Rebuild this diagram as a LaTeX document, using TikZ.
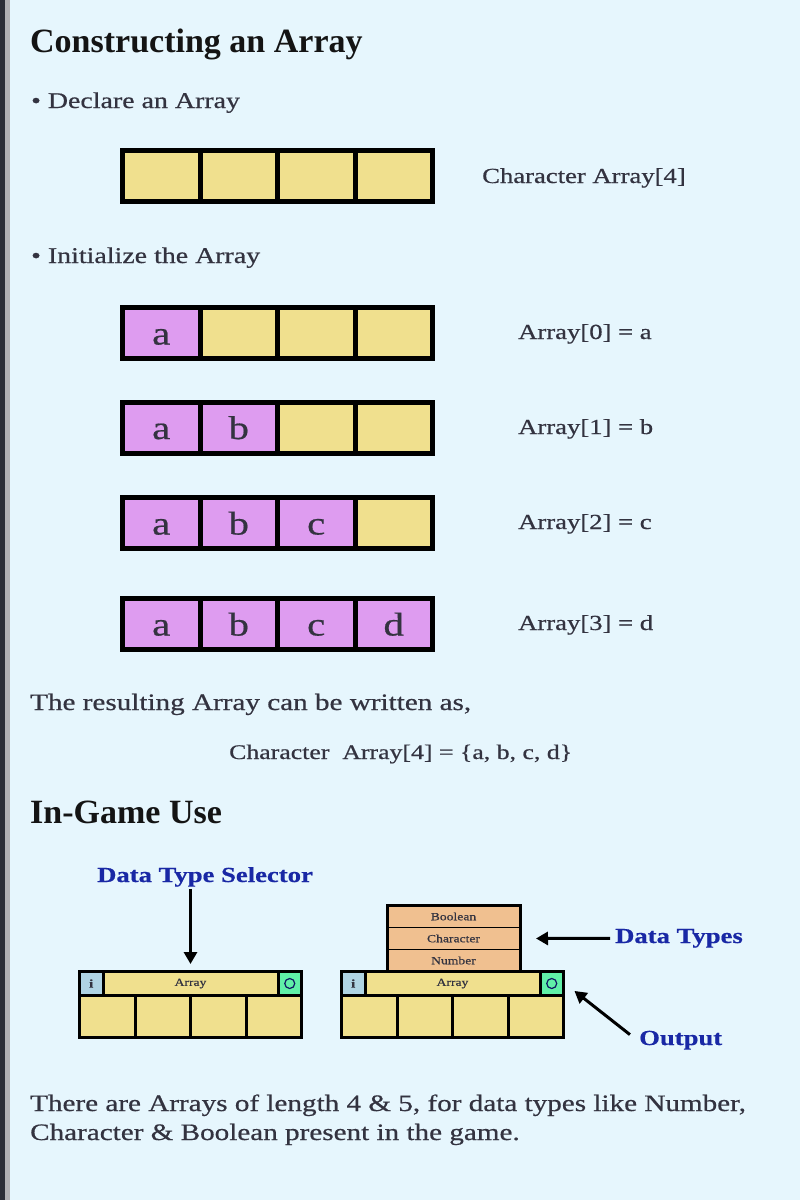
\documentclass[tikz,border=0pt]{standalone}
\usepackage{fontspec}
\setmainfont{Liberation Serif}[FakeStretch=1.24,FakeBold=0.6]
\newfontfamily\headfont{Liberation Serif}
\usetikzlibrary{arrows.meta}
\definecolor{bgblue}{RGB}{230,246,253}
\definecolor{stripdark}{RGB}{42,48,56}
\definecolor{stripgray}{RGB}{175,178,180}
\definecolor{cellyellow}{RGB}{240,224,142}
\definecolor{cellpurple}{RGB}{222,156,240}
\definecolor{typeorange}{RGB}{240,192,144}
\definecolor{infoblue}{RGB}{176,212,228}
\definecolor{outgreen}{RGB}{96,240,168}
\definecolor{textgray}{RGB}{51,51,64}
\definecolor{labelblue}{RGB}{25,40,165}
\tikzset{
  cell/.style={draw,line width=5pt,fill=cellyellow,minimum width=77.5pt,minimum height=51pt,
    inner sep=0pt,text height=23pt,text depth=0pt,text=textgray,font=\fontsize{33}{40}\selectfont},
  txt/.style={anchor=base west,inner sep=0pt,text=textgray,font=\fontsize{22.5}{27}\selectfont},
  head/.style={anchor=base west,inner sep=0pt,text=black!92,font=\headfont\bfseries\fontsize{34}{40}\selectfont},
  tag/.style={anchor=base west,inner sep=2pt,text=labelblue,font=\bfseries\fontsize{21.5}{26}\selectfont},
  part/.style={draw,line width=3pt,inner sep=0pt,minimum height=24pt,text=textgray,font=\fontsize{11}{12}\selectfont},
  slot/.style={draw,line width=3pt,fill=cellyellow,minimum width=55.5pt,minimum height=42pt},
  dtype/.style={draw,line width=1pt,fill=typeorange,minimum width=132pt,minimum height=22pt,
    inner sep=0pt,text=textgray,font=\fontsize{11}{13}\selectfont},
  arr/.style={-{Triangle[length=12pt,width=13pt]},line width=3pt}
}
\begin{document}
\begin{tikzpicture}[x=1pt,y=-1pt]
  \useasboundingbox (0,0) rectangle (800,1200);
  \fill[bgblue] (0,0) rectangle (800,1200);
  \fill[stripdark] (0,0) rectangle (5,1200);
  \fill[stripgray] (5,0) rectangle (10,1200);

  % declaring
  \node[head] (title) at (30,52) {Constructing an Array};
  \node[txt] (declare) at (31,108) {\textbullet\ Declare an Array};
  \foreach \c in {1,...,4}
    \node[cell] (d\c) at (83.75+77.5*\c,176) {};
  \node[txt,font=\fontsize{21.5}{26}\selectfont] (decllab) at (482,183) {Character Array[4]};

  % initialising
  \node[txt] (init) at (31,263) {\textbullet\ Initialize the Array};
  \foreach \r/\yy in {1/333,2/427.5,3/523,4/624}
    \foreach \c/\ch in {1/a,2/b,3/c,4/d} {
      \ifnum\c>\r
        \node[cell] (r\r-\c) at (83.75+77.5*\c,\yy) {};
      \else
        \node[cell,fill=cellpurple] (r\r-\c) at (83.75+77.5*\c,\yy) {\ch};
      \fi
    }
  \foreach \i/\yy/\ch in {0/339/a,1/434/b,2/529/c,3/630/d}
    \node[txt,font=\fontsize{21.5}{26}\selectfont] (lab\i) at (518,\yy) {Array[\i] = \ch};

  \node[txt,font=\fontsize{23.5}{28}\selectfont] (result) at (30,710) {The resulting Array can be written as,};
  \node[txt,font=\fontsize{20.8}{25}\selectfont] (final) at (229,759) {Character\ \ Array[4] = \{a, b, c, d\}};

  % in-game blocks
  \node[head] (game) at (30,823) {In-Game Use};
  \node[dtype] (bool) at (453.5,916.5) {Boolean};
  \node[dtype] (char) at (453.5,938.5) {Character};
  \node[dtype] (num) at (453.5,960.5) {Number};
  \draw[line width=3pt] (bool.north west) rectangle (num.south east);
  \foreach \w/\dx in {1/0,2/262} {
    \begin{scope}[xshift=\dx pt]
      \node[part,fill=cellyellow,minimum width=175pt] (w\w t) at (190.5,983.5) {Array};
      \node[part,fill=infoblue,minimum width=23.5pt,font=\bfseries\fontsize{12}{14}\selectfont] (w\w i) at (91.25,983.5) {i};
      \node[part,fill=outgreen,minimum width=23.5pt] (w\w o) at (289.75,983.5) {};
      \draw[line width=1.2pt,draw=labelblue!60!black] (w\w o) circle (5pt);
      \foreach \c in {1,...,4}
        \node[slot] (w\w s\c) at (51.75+55.5*\c,1016.5) {};
    \end{scope}
  }

  \node[tag] (sel) at (95,882) {Data Type Selector};
  \node[tag] (types) at (613,943) {Data Types};
  \node[tag] (outlab) at (637,1045) {Output};
  \draw[arr] (w1t |- sel.south) -- ([yshift=6pt]w1t.north);
  \draw[arr,shorten <=3pt,shorten >=16pt] (types.west) -- (char.east);
  \draw[arr,shorten <=9pt,shorten >=12pt] (outlab.west) -- (w2o.east);

  \node[txt,font=\fontsize{23.5}{28}\selectfont] (note1) at (30,1111) {There are Arrays of length 4 \& 5, for data types like Number,};
  \node[txt,font=\fontsize{23.5}{28}\selectfont] (note2) at (30,1140) {Character \& Boolean present in the game.};
\end{tikzpicture}
\end{document}
